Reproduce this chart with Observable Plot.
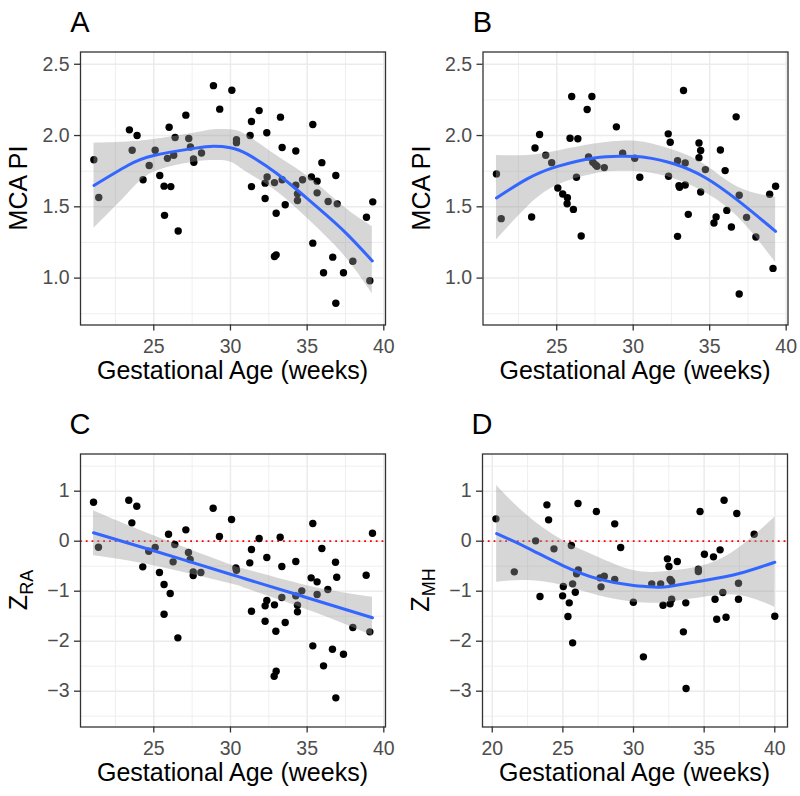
<!DOCTYPE html>
<html><head><meta charset="utf-8">
<script src="https://cdn.jsdelivr.net/npm/d3@7"></script>
<script src="https://cdn.jsdelivr.net/npm/@observablehq/plot@0.6"></script>
<style>
body{margin:0;background:#fff;}
#root{position:relative;width:800px;height:796px;font-family:"Liberation Sans",Arial,Helvetica,sans-serif;}
#root svg{position:absolute;}
</style></head><body><div id="root"></div>
<script>
// ---- Panel A: MCA PI vs gestational age ----
const gaA = [21.09,21.41,23.41,23.91,23.59,24.30,24.70,25.09,25.39,25.67,26.11,25.70,26.59,26.00,26.39,25.89,26.30,27.09,27.28,27.39,27.59,27.61,28.11,28.89,29.30,30.09,30.39,30.39,31.28,31.37,31.87,31.37,32.37,32.39,32.26,32.26,32.87,32.98,32.87,32.98,33.26,33.37,33.37,33.57,34.26,34.26,34.37,34.37,34.70,35.28,35.37,35.65,35.65,35.96,35.37,36.07,36.37,36.67,36.87,36.96,36.87,37.37,37.98,38.87,39.28,39.09];
const mcaA = [1.83,1.565,2.04,2.00,1.897,1.69,1.79,1.897,1.72,1.645,1.642,1.44,1.33,2.058,1.986,1.84,1.862,2.143,1.979,1.92,1.836,1.813,1.878,2.35,2.185,2.318,1.97,1.95,2.0,2.098,2.175,1.642,2.02,1.71,1.666,1.558,1.67,1.455,1.151,1.163,2.129,1.916,1.69,1.514,1.892,1.651,1.591,1.544,1.69,1.71,2.077,1.68,1.598,1.81,1.245,1.037,1.537,1.147,1.72,1.521,0.824,1.037,1.118,1.427,1.535,0.981];
const fitAx  = [21.1,23.3,25,27.6,28.9,30.0,31.1,33.0,35.2,37.4,39.25];
const fitAy  = [1.65,1.79,1.86,1.91,1.925,1.915,1.87,1.735,1.54,1.33,1.12];
const fitAhi = [1.946,1.955,1.972,2.016,2.04,2.04,2.0,1.86,1.70,1.50,1.36];
const fitAlo = [1.35,1.59,1.743,1.813,1.825,1.815,1.74,1.61,1.40,1.16,0.89];

// ---- Panel B ----
const gaB = [21.06,21.37,23.36,23.58,23.88,24.28,24.67,25.07,25.39,25.70,25.68,26.09,26.60,25.98,27.30,26.99,25.87,26.38,26.29,27.08,27.36,27.52,27.63,28.11,28.90,29.31,30.10,30.43,32.29,32.42,32.31,32.90,33.40,32.99,33.03,33.40,32.90,33.29,33.60,34.30,34.41,34.30,34.72,34.41,35.28,35.42,35.70,36.01,36.12,36.42,36.73,36.93,36.93,37.41,38.02,38.92,39.31,39.14];
const mcaB = [1.731,1.417,1.429,1.913,2.007,1.862,1.81,1.632,1.59,1.564,1.522,1.482,1.295,2.274,2.274,2.183,1.981,1.977,1.707,1.85,1.813,1.796,1.785,1.775,2.061,1.876,1.841,1.707,2.012,1.953,1.714,1.824,1.808,1.649,1.637,1.653,1.293,2.316,1.447,1.948,1.895,1.845,1.761,1.604,1.386,1.429,1.899,1.754,1.475,1.358,2.131,1.581,0.888,1.426,1.288,1.588,1.644,1.068];
const fitBx  = [21.06,23.07,25,27.45,29.2,30.73,32.7,34.67,36.86,39.31];
const fitBy  = [1.562,1.696,1.782,1.843,1.855,1.848,1.80,1.707,1.543,1.328];
const fitBhi = [1.86,1.86,1.89,1.94,1.96,1.953,1.895,1.796,1.637,1.567];
const fitBlo = [1.267,1.497,1.649,1.731,1.749,1.742,1.696,1.602,1.426,1.11];

// ---- Panel C: Z_RA ----
const gaC = [21.07,21.39,23.37,23.89,23.57,24.28,24.67,25.09,25.37,25.67,26.07,25.67,26.57,25.96,26.37,26.26,27.09,27.26,27.37,27.57,27.57,28.07,28.87,29.28,30.07,30.35,30.39,31.26,31.37,31.87,31.37,32.37,32.37,32.26,32.26,32.87,32.96,32.85,32.98,33.24,33.35,33.35,33.57,34.26,34.26,34.37,34.37,34.65,35.26,35.37,35.65,35.65,35.96,35.37,36.07,36.35,36.65,36.85,36.93,36.87,37.37,37.98,38.85,39.26,39.09];
const zRA = [0.78,-0.12,0.82,0.70,0.367,-0.513,-0.2,-0.127,-0.627,-0.867,-1.047,-1.46,-1.933,0.14,-0.067,-0.413,0.227,-0.227,-0.367,-0.613,-0.687,-0.627,0.66,0.093,0.433,-0.533,-0.58,-0.433,-0.167,0.053,-1.4,-0.327,-1.187,-1.293,-1.6,-1.273,-1.8,-2.7,-2.6,0.08,-0.507,-1.127,-1.627,-0.407,-1.093,-1.28,-1.413,-0.993,-0.733,0.353,-0.813,-1.067,-0.147,-2.093,-2.493,-0.967,-2.16,-0.42,-0.72,-3.133,-2.26,-1.727,-0.68,0.16,-1.813];
const fitCx  = [21.07,25,30,31,35,39.26];
const fitCy  = [0.17,-0.19,-0.66,-0.755,-1.13,-1.53];
const fitChi = [0.61,0.11,-0.47,-0.565,-0.89,-1.12];
const fitClo = [-0.29,-0.49,-0.85,-0.945,-1.37,-1.89];

// ---- Panel D: Z_MH ----
const gaD = [20.26,21.56,23.07,23.38,23.87,23.99,24.37,25.03,24.98,25.45,25.36,25.69,25.60,25.69,25.88,25.97,26.09,26.07,27.37,27.63,27.70,27.93,28.67,28.67,29.09,29.99,30.70,31.29,31.92,32.09,32.40,32.51,32.59,32.59,32.70,32.70,33.10,33.53,33.70,33.72,34.59,34.59,34.71,35.02,35.66,35.77,35.89,36.13,36.32,36.41,36.55,37.31,37.43,37.43,38.54,40.0];
const zMH = [0.447,-0.613,0.007,-1.107,0.727,0.427,-0.153,-0.907,-1.093,-1.233,-1.507,-2.033,-0.087,-0.853,-1.02,-0.653,-0.573,0.753,0.593,-0.733,-0.913,-0.70,0.347,-0.767,-0.127,-1.22,-2.313,-0.853,-0.853,-1.28,-0.353,-0.507,-1.253,-0.767,-0.807,-1.16,-0.407,-1.813,-1.233,-2.947,-0.56,-0.607,0.593,-0.26,-0.313,-1.16,-1.56,-0.173,-1.027,0.82,-1.52,0.553,-0.84,-1.16,0.14,-1.50];
const fitDx  = [20.31,22.48,25,27.49,30,31.69,32.51,35,37.54,40.0];
const fitDy  = [0.153,-0.133,-0.487,-0.753,-0.887,-0.92,-0.907,-0.787,-0.64,-0.42];
const fitDhi = [1.113,0.513,0.013,-0.32,-0.587,-0.62,-0.60,-0.487,-0.12,0.48];
const fitDlo = [-0.82,-0.787,-0.887,-1.087,-1.22,-1.24,-1.22,-1.12,-1.087,-1.32];

// ---- Ticks / labels ----
const xTicksABC = [25,30,35,40];
const xMinorABC = [22.5,27.5,32.5,37.5];
const xTicksD = [20,25,30,35,40];
const xMinorD = [22.5,27.5,32.5,37.5];
const yTicksMCA = [1.0,1.5,2.0,2.5];
const yMinorMCA = [0.75,1.25,1.75,2.25];
const yTicksZ = [-3,-2,-1,0,1];
const yMinorZ = [-3.5,-2.5,-1.5,-0.5,0.5,1.5];
const xLabel = "Gestational Age (weeks)";
const FONT = '"Liberation Sans", Arial, Helvetica, sans-serif';

const root = document.getElementById("root");

function makePanel(o) {
  const pts = o.xs.map((x, i) => ({x, y: o.ys[i]}));
  const fit = o.fx.map((x, i) => ({x, y: o.fy[i], lo: o.flo[i], hi: o.fhi[i]}));
  const grid = {stroke: "#EBEBEB", strokeOpacity: 1};
  const marks = [
    Plot.gridX(o.xMinor, {...grid, strokeWidth: 0.8}),
    Plot.gridY(o.yMinor, {...grid, strokeWidth: 0.8}),
    Plot.gridX(o.xTicks, {...grid, strokeWidth: 1.5}),
    Plot.gridY(o.yTicks, {...grid, strokeWidth: 1.5})
  ];
  if (o.zero) marks.push(Plot.ruleY([0], {stroke: "#FF0000", strokeWidth: 1.8, strokeDasharray: "1.8,4"}));
  marks.push(
    Plot.dot(pts, {x: "x", y: "y", r: 3.7, fill: "black", stroke: "none"}),
    Plot.areaY(fit, {x: "x", y1: "lo", y2: "hi", fill: "#999999", fillOpacity: 0.4, curve: "natural"}),
    Plot.line(fit, {x: "x", y: "y", stroke: "#3366FF", strokeWidth: 3, curve: "natural"}),
    Plot.frame({stroke: "#333333", strokeWidth: 1.3}),
    Plot.axisX(o.xTicks, {tickSize: 6, tickPadding: 8, fontSize: 19.5, fill: "#4D4D4D", stroke: "#333333", strokeWidth: 1.3, tickFormat: d => String(d), label: null}),
    Plot.axisY(o.yTicks, {tickSize: 6, tickPadding: 5, fontSize: 19.5, fill: "#4D4D4D", stroke: "#333333", strokeWidth: 1.3, tickFormat: o.fmt, label: null})
  );
  const svg = Plot.plot({
    width: 400, height: o.h,
    marginLeft: o.ml, marginRight: o.mr, marginTop: o.mt, marginBottom: o.mb,
    x: {domain: o.xDomain},
    y: {domain: o.yDomain},
    style: {fontFamily: FONT, background: "transparent", overflow: "visible"},
    marks
  });
  svg.style.left = o.left + "px";
  svg.style.top = o.top + "px";
  const fw = 400 - o.ml - o.mr, fh = o.h - o.mt - o.mb;
  const g = d3.select(svg);
  g.append("text").attr("x", o.ml).attr("y", o.mt - 19.5)
    .attr("font-size", 29).attr("fill", "black").attr("font-family", FONT).text(o.title);
  g.append("text").attr("x", o.ml + fw / 2).attr("y", o.mt + fh + 54)
    .attr("text-anchor", "middle").attr("font-size", 25).attr("fill", "black").attr("font-family", FONT).text(xLabel);
  const yl = g.append("text")
    .attr("transform", `translate(${o.ml - 53},${o.mt + fh / 2}) rotate(-90)`)
    .attr("text-anchor", "middle").attr("font-size", 25).attr("fill", "black").attr("font-family", FONT);
  if (o.ySub) {
    yl.append("tspan").text(o.yLabel);
    yl.append("tspan").attr("font-size", 18).attr("dy", 6).text(o.ySub);
  } else {
    yl.text(o.yLabel);
  }
  root.appendChild(svg);
}

const fmt1 = d3.format(".1f");
const fmtInt = d => (d < 0 ? "\u2212" : "") + Math.abs(d);
makePanel({title: "A", left: 0, top: 0, h: 400, ml: 80, mr: 15, mt: 51.5, mb: 75.5,
  xs: gaA, ys: mcaA, fx: fitAx, fy: fitAy, flo: fitAlo, fhi: fitAhi,
  xDomain: [20.22, 40.11], yDomain: [0.671, 2.586], xTicks: xTicksABC, xMinor: xMinorABC,
  yTicks: yTicksMCA, yMinor: yMinorMCA, fmt: fmt1, yLabel: "MCA PI"});
makePanel({title: "B", left: 400, top: 0, h: 400, ml: 82.5, mr: 12.5, mt: 51.5, mb: 75.5,
  xs: gaB, ys: mcaB, fx: fitBx, fy: fitBy, flo: fitBlo, fhi: fitBhi,
  xDomain: [20.18, 40.12], yDomain: [0.671, 2.586], xTicks: xTicksABC, xMinor: xMinorABC,
  yTicks: yTicksMCA, yMinor: yMinorMCA, fmt: fmt1, yLabel: "MCA PI"});
makePanel({title: "C", left: 0, top: 400, h: 396, ml: 80, mr: 15, mt: 53.5, mb: 69.5,
  xs: gaC, ys: zRA, fx: fitCx, fy: fitCy, flo: fitClo, fhi: fitChi, zero: true,
  xDomain: [20.22, 40.11], yDomain: [-3.716, 1.744], xTicks: xTicksABC, xMinor: xMinorABC,
  yTicks: yTicksZ, yMinor: yMinorZ, fmt: fmtInt, yLabel: "Z", ySub: "RA"});
makePanel({title: "D", left: 400, top: 400, h: 396, ml: 82, mr: 13, mt: 53.5, mb: 69.5,
  xs: gaD, ys: zMH, fx: fitDx, fy: fitDy, flo: fitDlo, fhi: fitDhi, zero: true,
  xDomain: [19.31, 40.9], yDomain: [-3.716, 1.744], xTicks: xTicksD, xMinor: xMinorD,
  yTicks: yTicksZ, yMinor: yMinorZ, fmt: fmtInt, yLabel: "Z", ySub: "MH"});
</script>
</body></html>
